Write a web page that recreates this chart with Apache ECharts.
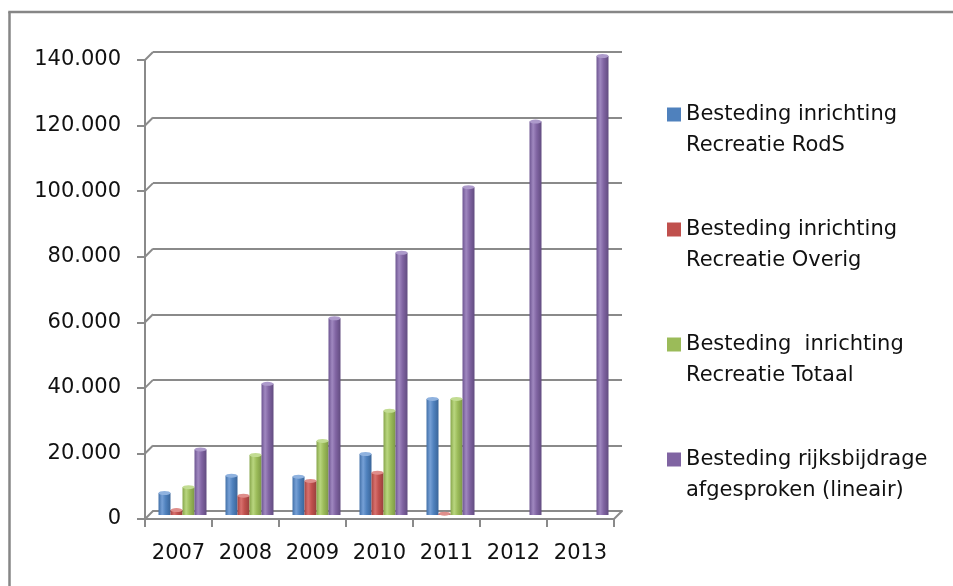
<!DOCTYPE html>
<html>
<head>
<meta charset="utf-8">
<script src="https://cdn.jsdelivr.net/npm/echarts@6/dist/echarts.min.js"></script>
<style>
html,body{margin:0;padding:0;background:#fff;overflow:hidden;}
#chart{width:953px;height:586px;}
</style>
</head>
<body>
<div id="chart"></div>
<script>
// ---- data ----
var categories = ['2007', '2008', '2009', '2010', '2011', '2012', '2013'];
var seriesNames = [
  'Besteding inrichting\nRecreatie RodS',
  'Besteding inrichting\nRecreatie Overig',
  'Besteding  inrichting\nRecreatie Totaal',
  'Besteding rijksbijdrage\nafgesproken (lineair)'
];
var rodS   = [6700, 12000, 11700, 18600, 35400, null, null];
var overig = [1500, 5900, 10400, 12900, 400, null, null];
var totaal = [8500, 18300, 22600, 31800, 35400, null, null];
var rijks  = [20000, 40000, 60000, 80000, 100000, 120000, 140000];
var yTicks = [0, 20000, 40000, 60000, 80000, 100000, 120000, 140000];

var values = [rodS, overig, totaal, rijks];
var baseColors = ['#4F81BD', '#C0504D', '#9BBB59', '#8064A2'];
var gradStops = [
  ['#4270a8', '#76a0d6', '#4f81bd', '#3a6599'],
  ['#a84441', '#d8716e', '#c0504d', '#98403d'],
  ['#87a64b', '#b9d67f', '#9bbb59', '#7d9945'],
  ['#6d5591', '#a088c0', '#8064a2', '#624c80']
];
var capColors = ['#8fb2df', '#df8e8b', '#c2dc92', '#ad9acb'];

function fmt(v) {
  return String(v).replace(/\B(?=(\d{3})+(?!\d))/g, '.');
}

var FONT = 'DejaVu Sans';
var AXIS_COL = '#8a8a8a';

var series = [];
values.forEach(function (vals, i) {
  var g = gradStops[i];
  series.push({
    type: 'bar',
    name: seriesNames[i],
    xAxisIndex: 1, yAxisIndex: 1,
    data: vals,
    barWidth: 12,
    barGap: '0%',
    z: 3,
    itemStyle: {
      color: {
        type: 'linear', x: 0, y: 0, x2: 1, y2: 0,
        colorStops: [
          {offset: 0, color: g[0]},
          {offset: 0.3, color: g[1]},
          {offset: 0.6, color: g[2]},
          {offset: 1, color: g[3]}
        ]
      }
    }
  });
});
values.forEach(function (vals, i) {
  series.push({
    type: 'pictorialBar',
    name: 'cap' + i,
    xAxisIndex: 1, yAxisIndex: 1,
    data: vals,
    symbol: 'circle',
    symbolSize: [12, 4],
    symbolPosition: 'end',
    symbolOffset: [0, '-50%'],
    barWidth: 12,
    barGap: '0%',
    z: 4,
    itemStyle: {color: capColors[i]}
  });
});
// diagonal connectors from front y-axis ticks to back wall gridlines
series.push({
  type: 'custom',
  name: 'diag',
  xAxisIndex: 0, yAxisIndex: 0,
  data: yTicks.map(function (v) { return [0, v]; }),
  silent: true,
  z: 2,
  renderItem: function (params, api) {
    var c = api.coord([api.value(0), api.value(1)]);
    var w = api.size([1, 0])[0];
    var x0 = c[0] - w / 2;
    return {
      type: 'line',
      shape: {x1: x0, y1: c[1], x2: x0 + 8, y2: c[1] - 8},
      style: {stroke: AXIS_COL, lineWidth: 2}
    };
  }
});
// right floor diagonal
series.push({
  type: 'custom',
  name: 'diagR',
  xAxisIndex: 0, yAxisIndex: 0,
  data: [[categories.length - 1, 0]],
  silent: true,
  z: 2,
  renderItem: function (params, api) {
    var c = api.coord([api.value(0), api.value(1)]);
    var w = api.size([1, 0])[0];
    var x0 = c[0] + w / 2;
    return {
      type: 'line',
      shape: {x1: x0, y1: c[1], x2: x0 + 8, y2: c[1] - 8},
      style: {stroke: AXIS_COL, lineWidth: 2}
    };
  }
});

var chart = echarts.init(document.getElementById('chart'), null, {renderer: 'canvas'});
chart.setOption({
  animation: false,
  backgroundColor: '#ffffff',
  graphic: [
    {
      type: 'line',
      shape: {x1: 9.5, y1: 12, x2: 9.5, y2: 586},
      style: {stroke: '#868686', lineWidth: 2.5},
      z: 0, silent: true
    },
    {
      type: 'line',
      shape: {x1: 8.25, y1: 12, x2: 953, y2: 12},
      style: {stroke: '#868686', lineWidth: 2.5},
      z: 0, silent: true
    }
  ],
  legend: {
    orient: 'vertical',
    left: 667,
    top: 68,
    padding: 0,
    itemGap: 22,
    itemWidth: 14,
    itemHeight: 14,
    icon: 'rect',
    selectedMode: false,
    data: seriesNames.map(function (n, i) {
      return {name: n, itemStyle: {color: baseColors[i]}};
    }),
    formatter: function (name) { return '\n' + name; },
    textStyle: {fontFamily: FONT, fontSize: 21, lineHeight: 31, color: '#111'}
  },
  grid: [
    {left: 145, right: 339, top: 60, bottom: 67},
    {left: 149, right: 335, top: 56, bottom: 71},
    {left: 153, right: 331, top: 52, bottom: 75}
  ],
  xAxis: [
    {
      type: 'category', gridIndex: 0, data: categories,
      axisLine: {show: true, lineStyle: {color: AXIS_COL, width: 2}},
      axisTick: {show: true, length: 8, interval: 0, alignWithLabel: false, lineStyle: {color: AXIS_COL, width: 2}},
      axisLabel: {interval: 0, margin: 24, fontFamily: FONT, fontSize: 21, color: '#111'},
      splitLine: {show: false}
    },
    {
      type: 'category', gridIndex: 1, data: categories, show: false
    },
    {
      type: 'category', gridIndex: 2, data: categories,
      axisLine: {show: true, lineStyle: {color: AXIS_COL, width: 2}},
      axisTick: {show: false}, axisLabel: {show: false}, splitLine: {show: false}
    }
  ],
  yAxis: [
    {
      type: 'value', gridIndex: 0, min: 0, max: 140000, interval: 20000,
      axisLine: {show: true, lineStyle: {color: AXIS_COL, width: 2}},
      axisTick: {show: true, length: 8, lineStyle: {color: AXIS_COL, width: 2}},
      axisLabel: {margin: 24, fontFamily: FONT, fontSize: 21, color: '#111', formatter: fmt},
      splitLine: {show: false}
    },
    {
      type: 'value', gridIndex: 1, min: 0, max: 140000, interval: 20000, show: false
    },
    {
      type: 'value', gridIndex: 2, min: 0, max: 140000, interval: 20000,
      axisLine: {show: false}, axisTick: {show: false}, axisLabel: {show: false},
      splitLine: {show: true, lineStyle: {color: AXIS_COL, width: 2}}
    }
  ],
  series: series
});
</script>
</body>
</html>
